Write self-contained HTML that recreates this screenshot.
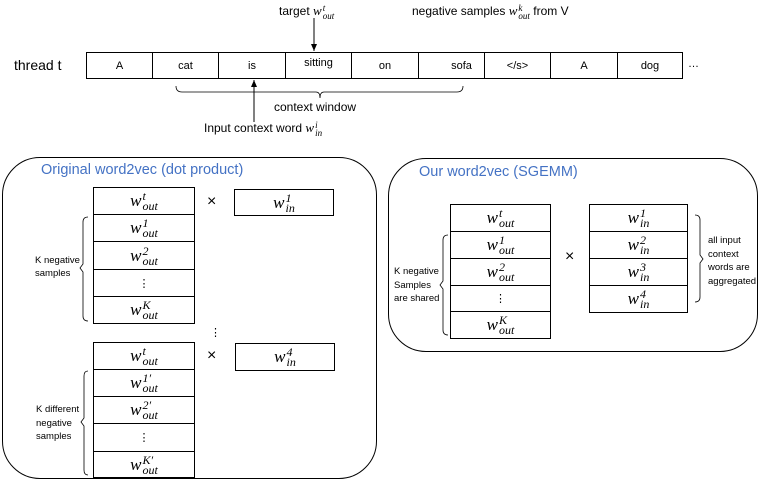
<!DOCTYPE html>
<html><head><meta charset="utf-8"><style>
html,body{margin:0;padding:0;background:#fff;}
body{width:761px;height:477px;position:relative;overflow:hidden;font-family:"Liberation Sans",sans-serif;color:#000;}
.a{position:absolute;}
.t{position:absolute;font-size:11px;white-space:nowrap;}
.cell{position:absolute;border:1px solid #000;box-sizing:border-box;display:flex;align-items:center;justify-content:center;font-size:11px;background:#fff;}
.m{font-family:"Liberation Serif",serif;font-style:italic;font-size:17px;display:inline-flex;align-items:center;}
.m .s{display:inline-flex;flex-direction:column;font-size:12px;line-height:10px;margin-left:1px;}
.sm{font-family:"Liberation Serif",serif;font-style:italic;font-size:13px;}
.ss{display:inline-block;font-size:9px;line-height:8px;vertical-align:-4px;font-family:"Liberation Serif",serif;font-style:italic;margin-left:1px;}
.panel{position:absolute;border:1.3px solid #000;border-radius:38px;box-sizing:border-box;}
.title{position:absolute;color:#4472C4;font-size:14.5px;white-space:nowrap;}
</style></head><body>

<div class="t" style="left:14px;top:57px;font-size:14px;">thread t</div>
<div class="a" style="left:86px;top:52px;width:597px;height:27px;border:1px solid #000;box-sizing:border-box;"></div>
<div class="cell" style="left:86px;top:52px;width:67px;height:27px;">A</div>
<div class="cell" style="left:152px;top:52px;width:67px;height:27px;">cat</div>
<div class="cell" style="left:218px;top:52px;width:68px;height:27px;">is</div>
<div class="cell" style="left:285px;top:52px;width:67px;height:27px;padding-bottom:5px;">sitting</div>
<div class="cell" style="left:351px;top:52px;width:68px;height:27px;">on</div>
<div class="cell" style="left:418px;top:52px;width:67px;height:27px;padding-left:20px;">sofa</div>
<div class="cell" style="left:484px;top:52px;width:67px;height:27px;">&lt;/s&gt;</div>
<div class="cell" style="left:550px;top:52px;width:68px;height:27px;">A</div>
<div class="cell" style="left:617px;top:52px;width:66px;height:27px;">dog</div>
<div class="t" style="left:688px;top:58px;">…</div>

<div class="t" style="left:279px;top:3px;font-size:12px;">target <span class="sm">w</span><span class="ss">t<br>out</span></div>
<div class="t" style="left:412px;top:3px;font-size:12px;">negative samples <span class="sm">w</span><span class="ss">k<br>out</span> from V</div>
<div class="t" style="left:274px;top:100px;font-size:12px;">context window</div>
<div class="t" style="left:204px;top:120px;font-size:12px;">Input context word <span class="sm">w</span><span class="ss">i<br>in</span></div>

<svg class="a" style="left:0;top:0" width="761" height="477">
<defs><marker id="ar" markerWidth="8" markerHeight="8" refX="7" refY="4" orient="auto" markerUnits="userSpaceOnUse"><path d="M0,1 L7,4 L0,7z" fill="#000"/></marker></defs>
<line x1="314" y1="18" x2="314" y2="51" stroke="#000" stroke-width="1" marker-end="url(#ar)"/>
<line x1="254" y1="122" x2="254" y2="80" stroke="#000" stroke-width="1" marker-end="url(#ar)"/>
<path d="M176,86 Q176,92 182,92 L316,92 Q320,92 320,98 Q320,92 324,92 L457,92 Q463,92 463,86" fill="none" stroke="#000" stroke-width="0.8"/>
<path d="M88,217 Q83,217 83,222 L83,264 L80,268 L83,272 L83,316 Q83,321 88,321" fill="none" stroke="#000" stroke-width="0.8"/>
<path d="M88,371 Q84,371 84,376 L84,418 L81,422 L84,426 L84,470 Q84,475 88,475" fill="none" stroke="#000" stroke-width="0.8"/>
<path d="M448,235 Q443,235 443,240 L443,281 L440,285 L443,289 L443,330 Q443,335 448,335" fill="none" stroke="#000" stroke-width="0.8"/>
<path d="M695,215 Q700,215 700,220 L700,255 L703,259 L700,263 L700,297 Q700,302 695,302" fill="none" stroke="#000" stroke-width="0.8"/>
</svg>

<div class="panel" style="left:2px;top:157px;width:375px;height:322px;"></div>
<div class="title" style="left:41px;top:162px;">Original word2vec (dot product)</div>
<div class="cell" style="left:93px;top:187px;width:102px;height:28px;"><span class="m">w<span class="s"><span>t</span><span>out</span></span></span></div>
<div class="cell" style="left:93px;top:214px;width:102px;height:28px;"><span class="m">w<span class="s"><span>1</span><span>out</span></span></span></div>
<div class="cell" style="left:93px;top:241px;width:102px;height:29px;"><span class="m">w<span class="s"><span>2</span><span>out</span></span></span></div>
<div class="cell" style="left:93px;top:269px;width:102px;height:28px;">⋮</div>
<div class="cell" style="left:93px;top:296px;width:102px;height:28px;"><span class="m">w<span class="s"><span>K</span><span>out</span></span></span></div>
<div class="t" style="left:207px;top:193px;font-size:16px;">×</div>
<div class="cell" style="left:234px;top:189px;width:100px;height:27px;"><span class="m">w<span class="s"><span>1</span><span>in</span></span></span></div>
<div class="t" style="left:210px;top:326px;">⋮</div>
<div class="cell" style="left:93px;top:342px;width:102px;height:28px;"><span class="m">w<span class="s"><span>t</span><span>out</span></span></span></div>
<div class="cell" style="left:93px;top:369px;width:102px;height:28px;"><span class="m">w<span class="s"><span>1′</span><span>out</span></span></span></div>
<div class="cell" style="left:93px;top:396px;width:102px;height:28px;"><span class="m">w<span class="s"><span>2′</span><span>out</span></span></span></div>
<div class="cell" style="left:93px;top:423px;width:102px;height:29px;">⋮</div>
<div class="cell" style="left:93px;top:451px;width:102px;height:27px;"><span class="m">w<span class="s"><span>K′</span><span>out</span></span></span></div>
<div class="t" style="left:207px;top:347px;font-size:16px;">×</div>
<div class="cell" style="left:235px;top:343px;width:100px;height:28px;"><span class="m">w<span class="s"><span>4</span><span>in</span></span></span></div>
<div class="t" style="left:35px;top:254px;font-size:9.5px;line-height:13px;">K negative<br>samples</div>
<div class="t" style="left:36px;top:403px;font-size:9.5px;line-height:13.5px;">K different<br>negative<br>samples</div>

<div class="panel" style="left:388px;top:158px;width:370px;height:194px;"></div>
<div class="title" style="left:419px;top:164px;">Our word2vec (SGEMM)</div>
<div class="cell" style="left:450px;top:204px;width:101px;height:28px;"><span class="m">w<span class="s"><span>t</span><span>out</span></span></span></div>
<div class="cell" style="left:450px;top:231px;width:101px;height:28px;"><span class="m">w<span class="s"><span>1</span><span>out</span></span></span></div>
<div class="cell" style="left:450px;top:258px;width:101px;height:28px;"><span class="m">w<span class="s"><span>2</span><span>out</span></span></span></div>
<div class="cell" style="left:450px;top:285px;width:101px;height:27px;">⋮</div>
<div class="cell" style="left:450px;top:311px;width:101px;height:28px;"><span class="m">w<span class="s"><span>K</span><span>out</span></span></span></div>
<div class="t" style="left:565px;top:248px;font-size:16px;">×</div>
<div class="cell" style="left:589px;top:204px;width:99px;height:28px;"><span class="m">w<span class="s"><span>1</span><span>in</span></span></span></div>
<div class="cell" style="left:589px;top:231px;width:99px;height:28px;"><span class="m">w<span class="s"><span>2</span><span>in</span></span></span></div>
<div class="cell" style="left:589px;top:258px;width:99px;height:28px;"><span class="m">w<span class="s"><span>3</span><span>in</span></span></span></div>
<div class="cell" style="left:589px;top:285px;width:99px;height:28px;"><span class="m">w<span class="s"><span>4</span><span>in</span></span></span></div>
<div class="t" style="left:394px;top:265px;font-size:9.5px;line-height:13.5px;">K negative<br>Samples<br>are shared</div>
<div class="t" style="left:708px;top:234px;font-size:9.5px;line-height:13.5px;">all input<br>context<br>words are<br>aggregated</div>
</body></html>
